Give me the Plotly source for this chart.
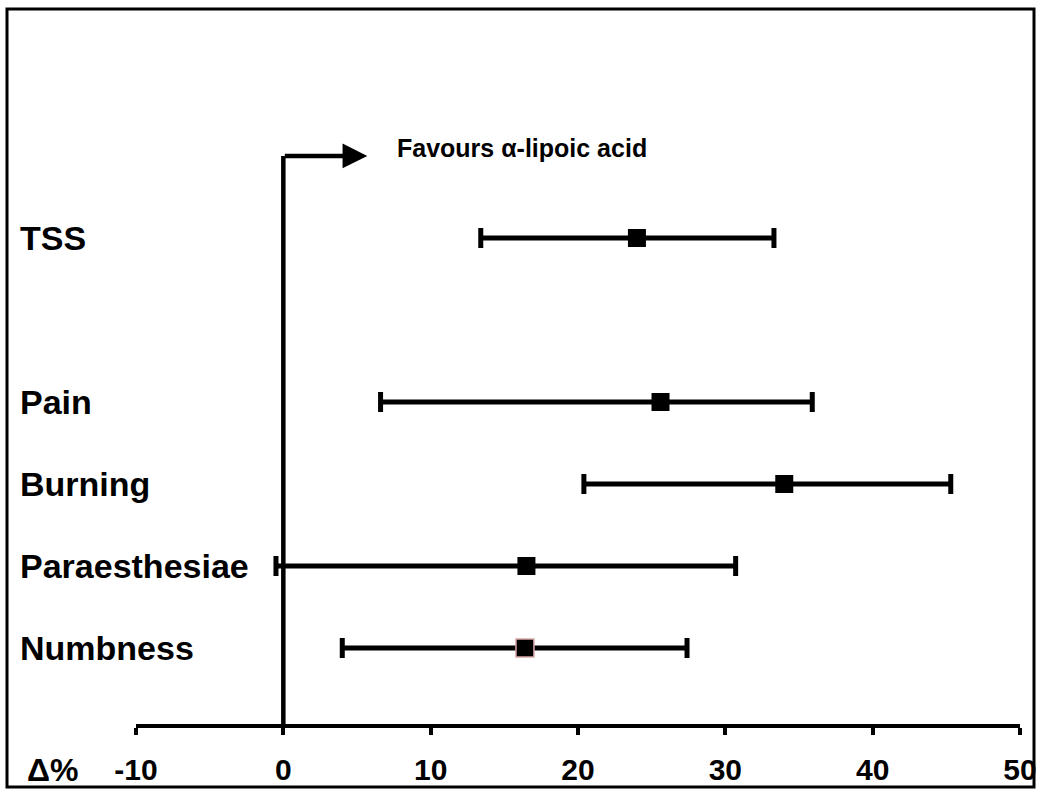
import plotly.graph_objects as go

categories = ["TSS", "Pain", "Burning", "Paraesthesiae", "Numbness"]
rows = [6, 4, 3, 2, 1]
center = [24.0, 25.6, 34.0, 16.5, 16.4]
low = [13.4, 6.6, 20.4, -0.5, 4.0]
high = [33.3, 35.9, 45.3, 30.7, 27.4]
tick_vals = [-10, 0, 10, 20, 30, 40, 50]
tick_text = ["-10", "0", "10", "20", "30", "40", "50"]

FONT = "Liberation Sans, Arial, sans-serif"

x_l, x_r = 136, 1020
y_t, y_b = 18, 724
pw, ph = x_r - x_l, y_b - y_t
r0 = 0.073

fig = go.Figure()

# zero reference line
fig.add_shape(type="line", xref="x", yref="y", x0=0, x1=0, y0=r0, y1=7,
              line=dict(color="black", width=4.5))

err_plus = [h - c for h, c in zip(high, center)]
err_minus = [c - l for c, l in zip(center, low)]
line_cols = ["black", "black", "black", "black", "#d8a8a8"]
line_w = [0, 0, 0, 0, 1.5]

fig.add_trace(go.Scatter(
    x=center, y=rows, mode="markers",
    marker=dict(symbol="square", size=18, color="black",
                line=dict(color=line_cols, width=line_w)),
    error_x=dict(type="data", symmetric=False, array=err_plus,
                 arrayminus=err_minus, color="black", thickness=5, width=10),
    showlegend=False, hoverinfo="skip", cliponaxis=False,
))

annotations = []
for cat, r in zip(categories, rows):
    annotations.append(dict(x=(18 - x_l) / pw, y=r, xref="paper", yref="y", text=cat,
                            showarrow=False, xanchor="left", yanchor="middle",
                            font=dict(family=FONT, size=34, color="black", weight="bold")))

# arrow
annotations.append(dict(x=5.7, y=7, xref="x", yref="y", ax=0, ay=7, axref="x", ayref="y",
                        text="", showarrow=True, arrowhead=2, arrowsize=1.1,
                        arrowwidth=4.5, arrowcolor="black", standoff=0, startstandoff=0))
annotations.append(dict(x=7.6, y=7.1, xref="x", yref="y", text="Favours α-lipoic acid",
                        showarrow=False, xanchor="left", yanchor="middle",
                        font=dict(family=FONT, size=25, color="black", weight="bold")))
annotations.append(dict(x=(52 - x_l) / pw, y=(y_b - 770) / ph, xref="paper", yref="paper", text="Δ%",
                        showarrow=False, xanchor="center", yanchor="middle",
                        font=dict(family=FONT, size=32, color="black", weight="bold")))

# outer frame
fig.add_shape(type="rect", xref="paper", yref="paper",
              x0=(7 - x_l) / pw, x1=(1034 - x_l) / pw,
              y0=(y_b - 787) / ph, y1=(y_b - 9) / ph,
              line=dict(color="black", width=3), fillcolor="rgba(0,0,0,0)")

fig.update_layout(
    width=1037, height=792,
    margin=dict(l=x_l, r=1037 - x_r, t=y_t, b=792 - y_b, autoexpand=False),
    paper_bgcolor="white", plot_bgcolor="white",
    annotations=annotations,
    xaxis=dict(range=[-10, 50], tickvals=tick_vals, ticktext=tick_text,
               showline=True, linecolor="black", linewidth=4,
               ticks="outside", ticklen=7, tickwidth=4, tickcolor="black",
               showgrid=False, zeroline=False, ticklabelstandoff=9, automargin=False,
               tickfont=dict(family=FONT, size=30, color="black", weight="bold")),
    yaxis=dict(range=[r0, r0 + ph / 82], visible=False, showgrid=False, zeroline=False),
)

fig.write_html("out.html")
